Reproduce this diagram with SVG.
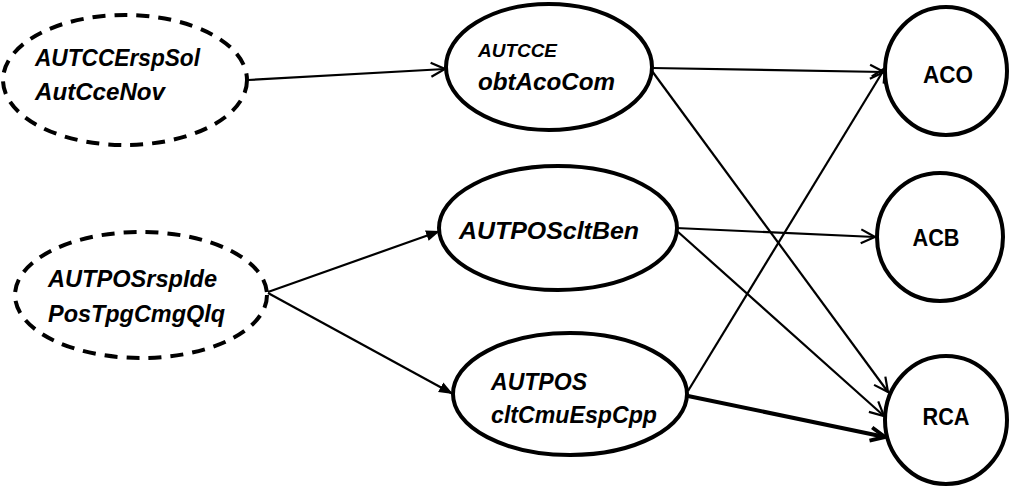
<svg xmlns="http://www.w3.org/2000/svg" width="1013" height="487" viewBox="0 0 1013 487">
<style>
.node{fill:#fff;stroke:#000;stroke-width:4}
.dash{stroke-dasharray:13 9}
.t{font-family:"Liberation Sans",Arial,sans-serif;font-weight:bold;font-style:italic;font-size:24px;fill:#000}
.s{font-size:19px}
.c{font-family:"Liberation Sans",Arial,sans-serif;font-weight:bold;font-size:24px;fill:#000;text-anchor:middle}
.e{stroke:#000;stroke-width:2.2;fill:none}
.thick{stroke-width:4}
</style>
<defs>
<marker id="open" markerUnits="userSpaceOnUse" markerWidth="18" markerHeight="18" refX="15" refY="8" orient="auto" viewBox="0 0 18 16">
<path d="M1,1 L15,8 L1,15" fill="none" stroke="#000" stroke-width="2.2"/>
</marker>
<marker id="openThick" markerUnits="userSpaceOnUse" markerWidth="20" markerHeight="20" refX="15" refY="8" orient="auto" viewBox="0 0 18 16">
<path d="M2,2 L15,8 L2,14" fill="none" stroke="#000" stroke-width="3.5"/>
</marker>
<marker id="fill" markerUnits="userSpaceOnUse" markerWidth="15" markerHeight="12" refX="14" refY="5.5" orient="auto" viewBox="0 0 15 11">
<path d="M0,0 L14,5.5 L0,11 z" fill="#000"/>
</marker>
</defs>
<g id="connectors">
<line class="e" x1="248" y1="80" x2="445" y2="69" marker-end="url(#open)"/>
<line class="e" x1="268" y1="292" x2="440" y2="231" marker-end="url(#fill)"/>
<line class="e" x1="268" y1="293" x2="453" y2="394" marker-end="url(#fill)"/>
<line class="e" x1="652" y1="68" x2="884" y2="72" marker-end="url(#open)"/>
<line class="e" x1="652" y1="71" x2="888" y2="392" marker-end="url(#open)"/>
<line class="e" x1="676" y1="228" x2="875" y2="237" marker-end="url(#open)"/>
<line class="e" x1="677" y1="231" x2="884" y2="416" marker-end="url(#open)"/>
<line class="e" x1="688" y1="391" x2="885" y2="68" marker-end="url(#open)"/>
<line class="e thick" x1="688" y1="396" x2="885" y2="437" marker-end="url(#openThick)"/>
</g>
<g id="n_AUTCCErspSol">
<ellipse class="node dash" cx="125" cy="80" rx="122" ry="65"/>
<text class="t" x="35" y="66" textLength="165" lengthAdjust="spacingAndGlyphs">AUTCCErspSol</text>
<text class="t" x="35" y="100" textLength="130" lengthAdjust="spacingAndGlyphs">AutCceNov</text>
</g>
<g id="n_AUTPOSrspIde">
<ellipse class="node dash" cx="141" cy="295" rx="126" ry="63"/>
<text class="t" x="48" y="287" textLength="169" lengthAdjust="spacingAndGlyphs">AUTPOSrspIde</text>
<text class="t" x="48" y="322" textLength="177" lengthAdjust="spacingAndGlyphs">PosTpgCmgQlq</text>
</g>
<g id="n_obtAcoCom">
<ellipse class="node" cx="549" cy="67" rx="103" ry="63"/>
<text class="t s" x="478" y="57" textLength="79" lengthAdjust="spacingAndGlyphs">AUTCCE</text>
<text class="t" x="478" y="90" textLength="137" lengthAdjust="spacingAndGlyphs">obtAcoCom</text>
</g>
<g id="n_AUTPOScltBen">
<ellipse class="node" cx="558" cy="228" rx="119" ry="62"/>
<text class="t" x="459" y="239" textLength="180" lengthAdjust="spacingAndGlyphs">AUTPOScltBen</text>
</g>
<g id="n_cltCmuEspCpp">
<ellipse class="node" cx="570" cy="394" rx="117" ry="61"/>
<text class="t" x="491" y="390" textLength="96" lengthAdjust="spacingAndGlyphs">AUTPOS</text>
<text class="t" x="491" y="423" textLength="166" lengthAdjust="spacingAndGlyphs">cltCmuEspCpp</text>
</g>
<g id="n_ACO">
<ellipse class="node" cx="946" cy="71" rx="61" ry="64"/>
<text class="c" x="948" y="83" textLength="50" lengthAdjust="spacingAndGlyphs">ACO</text>
</g>
<g id="n_ACB">
<ellipse class="node" cx="940" cy="237" rx="63" ry="64"/>
<text class="c" x="936" y="246" textLength="47" lengthAdjust="spacingAndGlyphs">ACB</text>
</g>
<g id="n_RCA">
<ellipse class="node" cx="946" cy="420" rx="61" ry="64"/>
<text class="c" x="946" y="425" textLength="47" lengthAdjust="spacingAndGlyphs">RCA</text>
</g>
</svg>
